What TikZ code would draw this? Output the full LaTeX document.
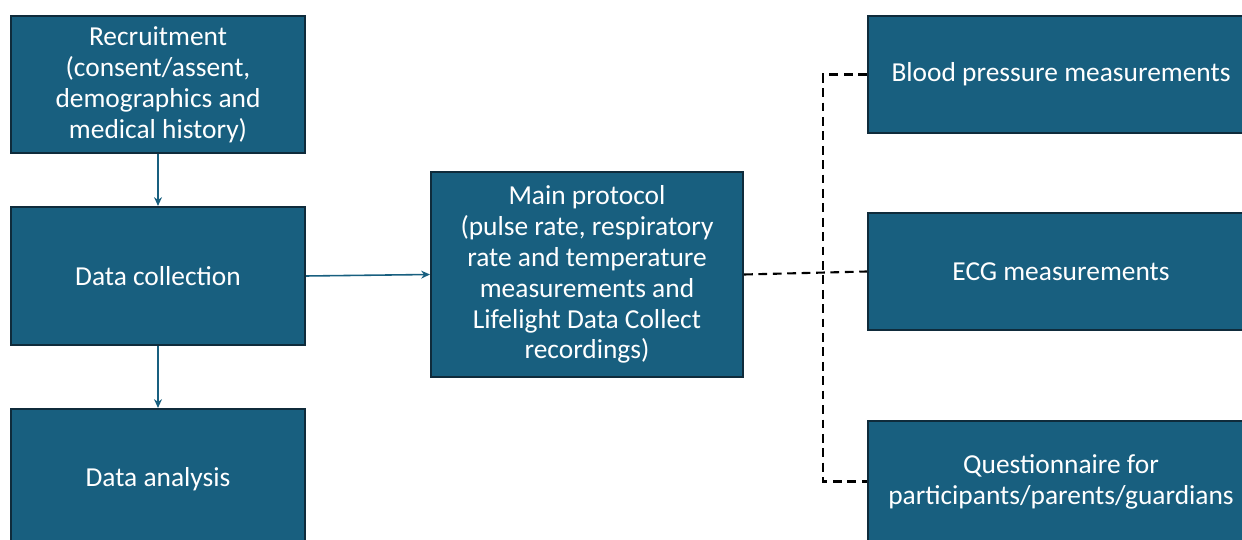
\documentclass[tikz,border=0pt]{standalone}
\usepackage{fontspec}
\setmainfont{Carlito}
\usetikzlibrary{arrows.meta}
\definecolor{bleu}{HTML}{185F7F}
\definecolor{bord}{HTML}{0F2B3B}
\begin{document}
\begin{tikzpicture}[x=0.02cm,y=-0.02cm]
            \tikzstyle{boite}=[rectangle,draw=bord,line width=1.2pt,fill=bleu,text=white,align=center,font=\fontsize{15.6}{17.6}\selectfont,inner sep=0pt]
            \tikzstyle{fleche}=[draw=bleu,line width=0.9pt,-{Stealth[length=5pt,width=4.5pt]}]
            \tikzstyle{pointille}=[draw=black,line width=1.2pt,dash pattern=on 5pt off 3.2pt]
            \useasboundingbox (0,0) rectangle (1242,540);
            \clip (0,0) rectangle (1242,540);
            \node[boite,minimum width=5.88cm,minimum height=2.74cm] (rec) at (158,84.5) {Recruitment\\(consent/assent,\\demographics and\\medical history)};
            \node[boite,minimum width=5.88cm,minimum height=2.76cm] (coll) at (158,276) {Data collection};
            \node[boite,minimum width=5.88cm,minimum height=2.8cm] (ana) at (158,479) {Data analysis};
            \node[boite,minimum width=6.24cm,minimum height=4.1cm] (main) at (587,274.5) {Main protocol\\(pulse rate, respiratory\\rate and temperature\\measurements and\\Lifelight Data Collect\\recordings)};
            \node[boite,minimum width=7.72cm,minimum height=2.34cm] (bp) at (1061,74.5) {Blood pressure measurements};
            \node[boite,minimum width=7.72cm,minimum height=2.34cm] (ecg) at (1061,271.5) {ECG measurements};
            \node[boite,minimum width=7.72cm,minimum height=2.42cm] (q) at (1061,481.5) {Questionnaire for\\participants/parents/guardians};
            \coordinate (j) at (823,273);
            \draw[fleche] (rec) -- (coll);
            \draw[fleche] (coll) -- (ana);
            \draw[fleche] (coll.east) -- (main.west);
            \draw[pointille] (main.east) -- (ecg.west);
            \draw[pointille] (bp.west) -| (j) |- (q.west);
        \end{tikzpicture}
\end{document}
